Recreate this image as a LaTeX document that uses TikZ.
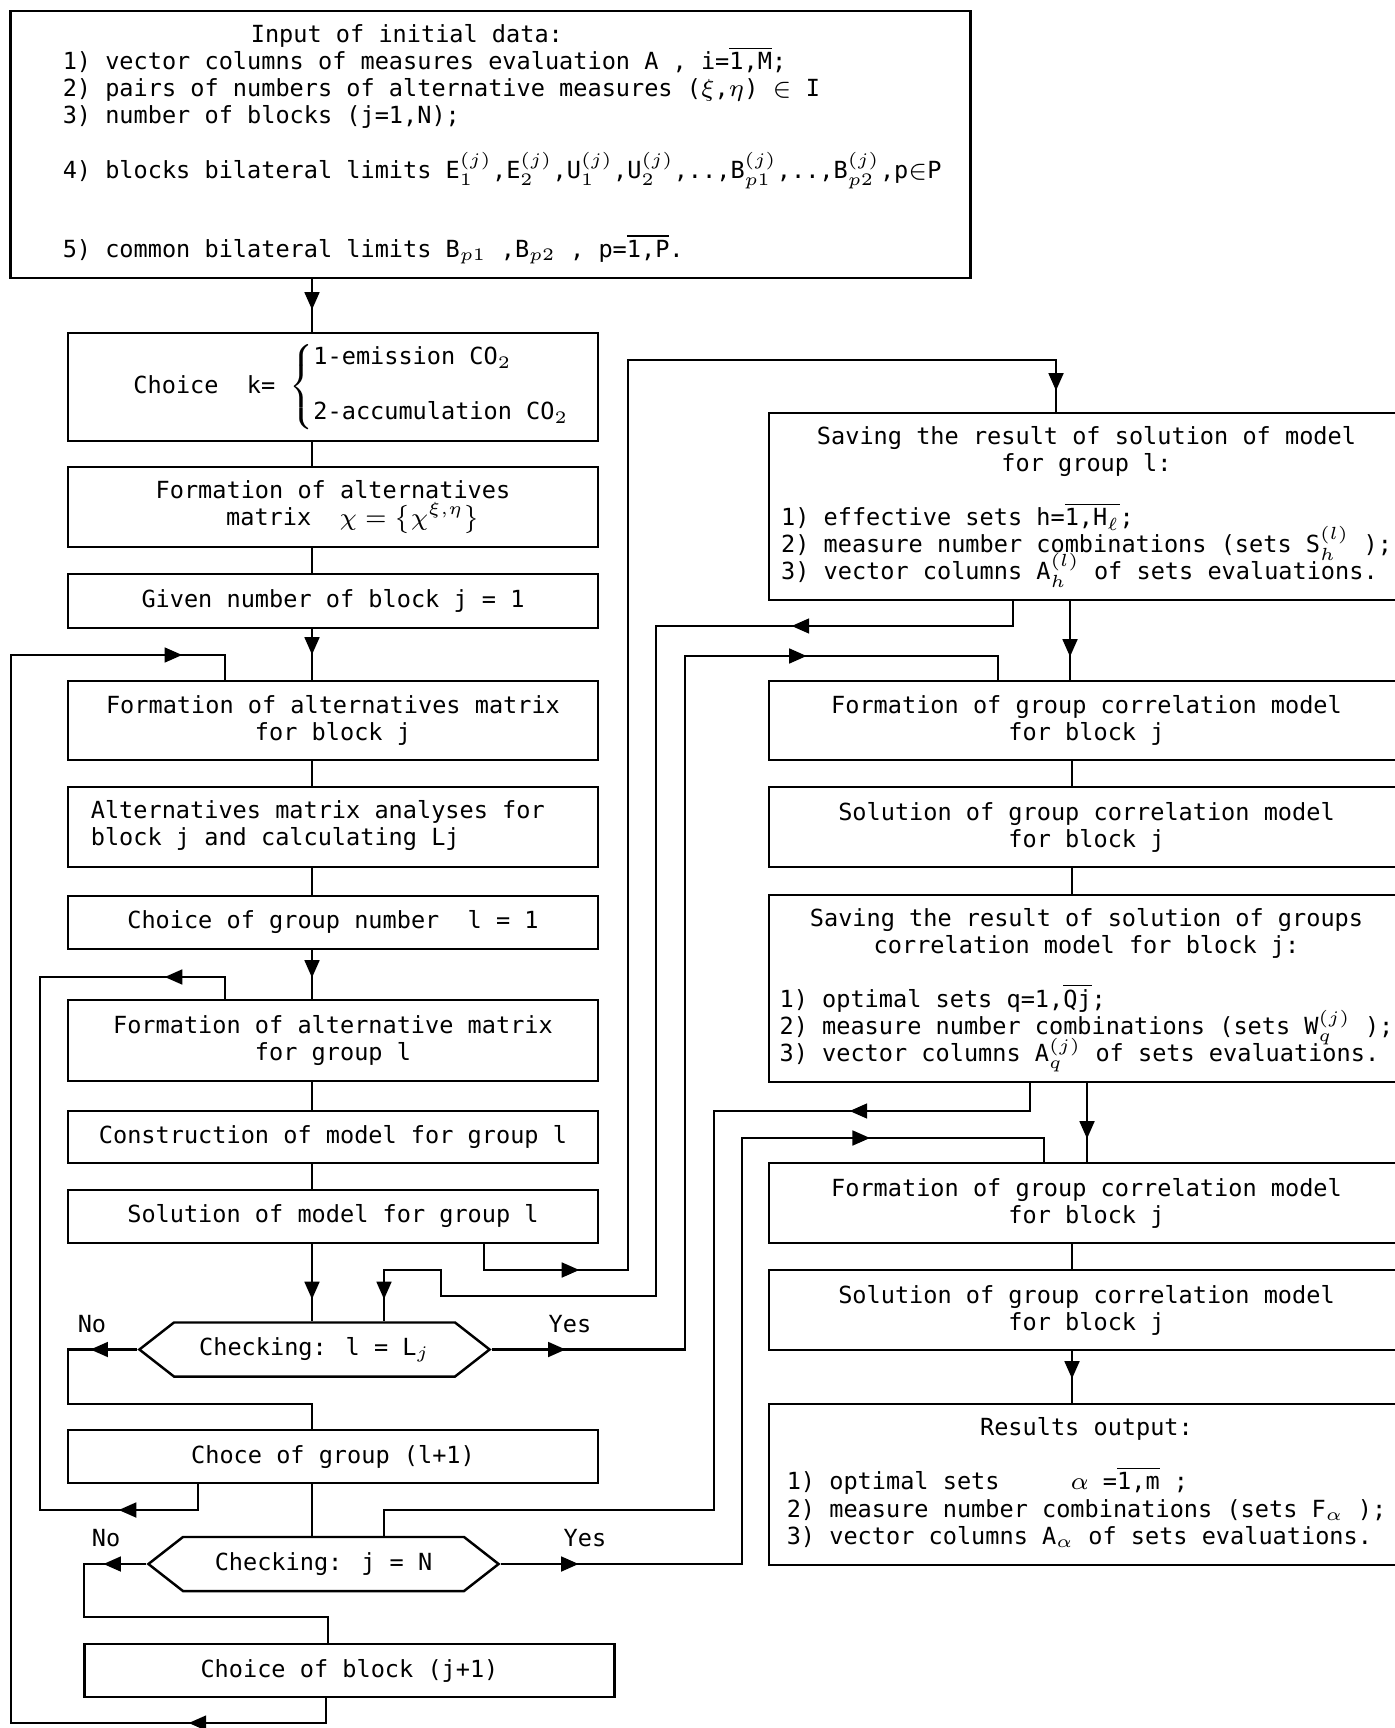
\documentclass[tikz,border=0pt]{standalone}
\usepackage{amsmath,amssymb}
\usepackage{fontspec}
\setmainfont{DejaVu Sans Mono}
\usetikzlibrary{arrows.meta, positioning, shapes.symbols, decorations.markings}

\tikzset{
    fl/.tip={Triangle[length=5pt, width=4.2pt]},
    tipat/.style={postaction={decorate, decoration={markings, mark=at position #1 with {\arrow{fl}}}}},
    backat/.style={postaction={decorate, decoration={markings, mark=at position #1 with {\arrowreversed{fl}}}}}
}

\begin{document}
\begin{tikzpicture}[
    x=0.01cm, y=-0.01cm, line width=0.7pt,
    every node/.style={font=\fontsize{6.7}{7.7}\selectfont},
    lbox/.style={draw, rectangle, minimum width=5.3cm, align=center, inner sep=0pt},
    rbox/.style={draw, rectangle, minimum width=6.35cm, align=center, inner sep=0pt},
    check/.style={draw, signal, signal to=west and east, signal pointer angle=76, minimum width=3.5cm, minimum height=0.54cm, inner sep=0pt}
]
    \useasboundingbox (0,0) rectangle (1395,1728);

    % Input data
    \node[lbox, minimum width=9.59cm, minimum height=2.67cm] (input) at (490.5,144.5) {%
        \makebox[8.55cm][l]{\begin{tabular}{@{}l@{}}
        \hspace*{1.88cm}Input of initial data:\\
        1) vector columns of measures evaluation A , i=$\smash{\overline{\text{1,M}}}$;\\
        2) pairs of numbers of alternative measures ($\xi$,$\eta$) $\in$ I\\
        3) number of blocks (j=1,N);\\[7.7pt]
        \smash{4) blocks bilateral limits E$_1^{(j)}$,E$_2^{(j)}$,U$_1^{(j)}$,U$_2^{(j)}$,..,B$_{p1}^{(j)}$,..,B$_{p2}^{(j)}$,p$\in$P}\\[14.8pt]
        5) common bilateral limits B$_{p1}$ ,B$_{p2}$ , p=$\smash{\overline{\text{1,P}}}$.
        \end{tabular}}};

    % Left column
    \node[lbox, minimum height=1.08cm] (choice) at (333,387) {%
        \hspace*{0.4cm}Choice\ \ k= $\left\{\begin{tabular}{@{}l@{}}1-emission CO$_2$\\[7.9pt]2-accumulation CO$_2$\end{tabular}\right.$};
    \node[lbox, minimum height=0.8cm] (formalt) at (333,507) {Formation of alternatives\\\hspace*{0.4cm}matrix\ \ $\chi=\bigl\{\chi^{\xi,\eta}\bigr\}$};
    \node[lbox, minimum height=0.54cm] (givenj) at (333,601) {Given number of block j = 1};
    \node[lbox, minimum height=0.79cm] (formblock) at (333,720.5) {Formation of alternatives matrix\\for block j};
    \node[lbox, minimum height=0.8cm] (analyses) at (333,827) {%
        \makebox[4.84cm][l]{\begin{tabular}{@{}l@{}}Alternatives matrix analyses for\\block j and calculating Lj\end{tabular}}};
    \node[lbox, minimum height=0.53cm] (choicel) at (333,922.5) {Choice of group number\ \ l = 1};
    \node[lbox, minimum height=0.81cm] (formgroup) at (333,1040.5) {Formation of alternative matrix\\for group l};
    \node[lbox, minimum height=0.52cm] (construct) at (333,1137) {Construction of model for group l};
    \node[lbox, minimum height=0.53cm] (solvegroup) at (333,1216.5) {Solution of model for group l};
    \node[check] (checkl) at (314.5,1349.5) {Checking: l = L$_j$};
    \node[lbox, minimum height=0.53cm] (choicegrp) at (333,1456.5) {Choce of group (l+1)};
    \node[check] (checkj) at (323.5,1564) {Checking: j = N};
    \node[lbox, minimum height=0.53cm] (choiceblk) at (349.5,1670.5) {Choice of block (j+1)};

    % Right column
    \node[rbox, minimum height=1.87cm] (savegrp) at (1086.5,506.5) {%
        \begin{tabular}{@{}l@{}}
        \multicolumn{1}{@{}c@{}}{Saving the result of solution of model}\\
        \multicolumn{1}{@{}c@{}}{for group l:}\\[7.7pt]
        1) effective sets h=$\smash{\overline{\text{1,H}_\ell}}$;\\
        \smash{2) measure number combinations (sets S$_h^{(l)}$ );}\\
        \smash{3) vector columns A$_h^{(l)}$ of sets evaluations.}
        \end{tabular}};
    \node[rbox, minimum height=0.79cm] (formcorr1) at (1086.5,720.5) {Formation of group correlation model\\for block j};
    \node[rbox, minimum height=0.8cm] (solvecorr1) at (1086.5,827) {Solution of group correlation model\\for block j};
    \node[rbox, minimum height=1.87cm] (saveblk) at (1086.5,988.5) {%
        \begin{tabular}{@{}l@{}}
        \multicolumn{1}{@{}c@{}}{Saving the result of solution of groups}\\
        \multicolumn{1}{@{}c@{}}{correlation model for block j:}\\[7.7pt]
        1) optimal sets q=1,$\smash{\overline{\text{Qj}}}$;\\
        \smash{2) measure number combinations (sets W$_q^{(j)}$ );}\\
        \smash{3) vector columns A$_q^{(j)}$ of sets evaluations.}
        \end{tabular}};
    \node[rbox, minimum height=0.8cm] (formcorr2) at (1086.5,1203) {Formation of group correlation model\\for block j};
    \node[rbox, minimum height=0.8cm] (solvecorr2) at (1086.5,1310) {Solution of group correlation model\\for block j};
    \node[rbox, minimum height=1.61cm] (results) at (1086.5,1484.5) {%
        \begin{tabular}{@{}l@{}}
        \multicolumn{1}{@{}c@{}}{Results output:}\\[7.7pt]
        1) optimal sets\ \ \ \ \ $\alpha$ =$\smash{\overline{\text{1,m}}}$ ;\\
        2) measure number combinations (sets F$_\alpha$ );\\
        3) vector columns A$_\alpha$ of sets evaluations.
        \end{tabular}};

    % Branch labels
    \node (nogroup) at (92,1324) {No};
    \node (yesgroup) at (570,1324) {Yes};
    \node (noblock) at (106,1538) {No};
    \node (yesblock) at (585,1538) {Yes};

    % Main column
    \draw[tipat=-0.22cm] (input.south -| 312,0) -- (choice.north -| 312,0);
    \draw (choice.south -| 312,0) -- (formalt.north -| 312,0);
    \draw (formalt.south -| 312,0) -- (givenj.north -| 312,0);
    \draw[tipat=-0.25cm] (givenj.south -| 312,0) -- (formblock.north -| 312,0);
    \draw (formblock.south -| 312,0) -- (analyses.north -| 312,0);
    \draw (analyses.south -| 312,0) -- (choicel.north -| 312,0);
    \draw[tipat=-0.21cm] (choicel.south -| 312,0) -- (formgroup.north -| 312,0);
    \draw (formgroup.south -| 312,0) -- (construct.north -| 312,0);
    \draw (construct.south -| 312,0) -- (solvegroup.north -| 312,0);
    \draw[tipat=-0.22cm] (solvegroup.south -| 312,0) -- (checkl.north -| 312,0);

    % Group loop
    \draw[tipat=0.47cm] (checkl.west) -| (68,1404) -| (choicegrp.north -| 312,0);
    \draw[tipat=0.74cm, tipat=10.08cm] (checkl.east) -| (685,656) -| (formcorr1.north -| 998,0);
    \draw[tipat=1.05cm, backat=8.41cm] (choicegrp.south -| 198,0) -- (198,1510) -| (40,977) -| (formgroup.north -| 225,0);
    \draw (choicegrp.south -| 312,0) -- (checkj.north -| 312,0);

    % Block loop
    \draw[tipat=0.43cm] (checkj.west) -| (84,1617) -| (choiceblk.north -| 328,0);
    \draw[tipat=0.78cm, tipat=7.95cm] (checkj.east) -| (742,1138) -| (formcorr2.north -| 1044,0);
    \draw[tipat=1.62cm, tipat=15.78cm] (choiceblk.south -| 326,0) -- (326,1723) -| (11,655) -| (formblock.north -| 225,0);

    % Right column
    \draw[tipat=1.21cm, tipat=-0.21cm] (solvegroup.south -| 484,0) -- (484,1270) -| (628,360) -| (savegrp.north -| 1056,0);
    \draw[tipat=2.46cm, tipat=-0.22cm] (savegrp.south -| 1013,0) -- (1013,626) -| (656,1296) -| (441,1270) -| (checkl.north -| 384,0);
    \draw[tipat=-0.23cm] (savegrp.south -| 1070,0) -- (formcorr1.north -| 1070,0);
    \draw (formcorr1.south -| 1072,0) -- (solvecorr1.north -| 1072,0);
    \draw (solvecorr1.south -| 1072,0) -- (saveblk.north -| 1072,0);
    \draw[tipat=-0.23cm] (saveblk.south -| 1087,0) -- (formcorr2.north -| 1087,0);
    \draw[tipat=2.08cm] (saveblk.south -| 1030,0) -- (1030,1111) -| (714,1510) -| (checkj.north -| 384,0);
    \draw (formcorr2.south -| 1072,0) -- (solvecorr2.north -| 1072,0);
    \draw[tipat=-0.24cm] (solvecorr2.south -| 1072,0) -- (results.north -| 1072,0);
\end{tikzpicture}
\end{document}
